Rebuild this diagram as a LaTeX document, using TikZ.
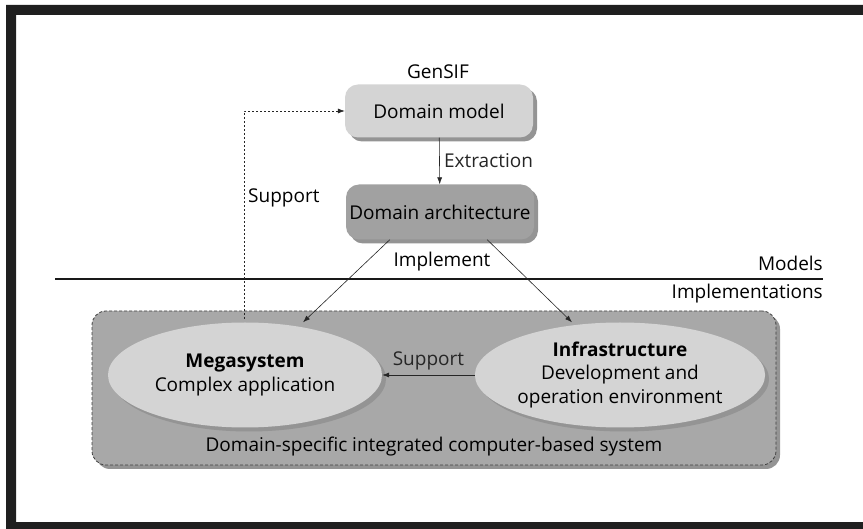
\documentclass[tikz,border=0pt]{standalone}
\usepackage{fontspec}
\setmainfont{Open Sans}
\usetikzlibrary{arrows.meta,shadows,shapes.geometric}

\begin{document}
\begin{tikzpicture}[x=1pt,y=-1pt,font=\fontsize{19}{23.5}\selectfont,
  shade/.style={drop shadow={shadow xshift=4pt,shadow yshift=-4pt,fill=black!42,opacity=1}},
  modelbox/.style={shade,rounded corners=13pt,minimum width=188pt,minimum height=53pt,inner sep=0pt},
  blob/.style={shade,ellipse,fill=black!17,minimum width=274pt,minimum height=105pt,inner sep=0pt,align=center},
  arr/.style={-{Latex[length=7pt,width=5pt]},black!85,line width=0.6pt}]
  \useasboundingbox (0,0) rectangle (863,529);
  \fill[black!88] (6,5) rectangle (863,15) (6,5) rectangle (16,529) (6,522) rectangle (863,529);
  % domain-specific system
  \node[shade,draw=black!75,dash pattern=on 3pt off 2pt,line width=0.8pt,fill=black!34,rounded corners=14pt,minimum width=684pt,minimum height=154pt] (dsys) at (434,388) {};
  \node (dlabel) at (434,447) {Domain-specific integrated computer-based system};
  \node[blob] (mega) at (245,375) {\textbf{Megasystem}\\Complex application};
  \node[blob] (infra) at (620,375) {\textbf{Infrastructure}\\Development and\\operation environment};
  % models
  \node[modelbox,fill=black!17] (dmodel) at (439,111) {Domain model};
  \node[modelbox,fill=black!37,minimum height=55pt] (darch) at (440,212) {Domain architecture};
  \node (gensif) at (438,72) {GenSIF};
  \draw[black!90,line width=2.5pt] (55,279) -- (823,279);
  \node[anchor=east,inner xsep=0pt] (models) at (823,263) {Models};
  \node[anchor=east,inner xsep=0pt] (impls) at (823,294) {Implementations};
  \draw[arr] (dmodel) -- node[right,xshift=1pt] {Extraction} (darch);
  \draw[arr] ([xshift=44pt]darch.south west) -- ([xshift=58pt]mega.north);
  \draw[arr] ([xshift=-47pt]darch.south east) -- ([xshift=-48pt]infra.north);
  \node (impl) at (442,262) {Implement};
  \draw[arr] (infra) -- node[above,yshift=1pt] {Support} (mega);
  \coordinate (sbase) at (244,319);
  \draw[arr,dash pattern=on 2pt off 2pt] (sbase) |- (dmodel.west);
  \node[anchor=west,inner xsep=0pt] (suplabel) at (248,198) {Support};
\end{tikzpicture}
\end{document}
